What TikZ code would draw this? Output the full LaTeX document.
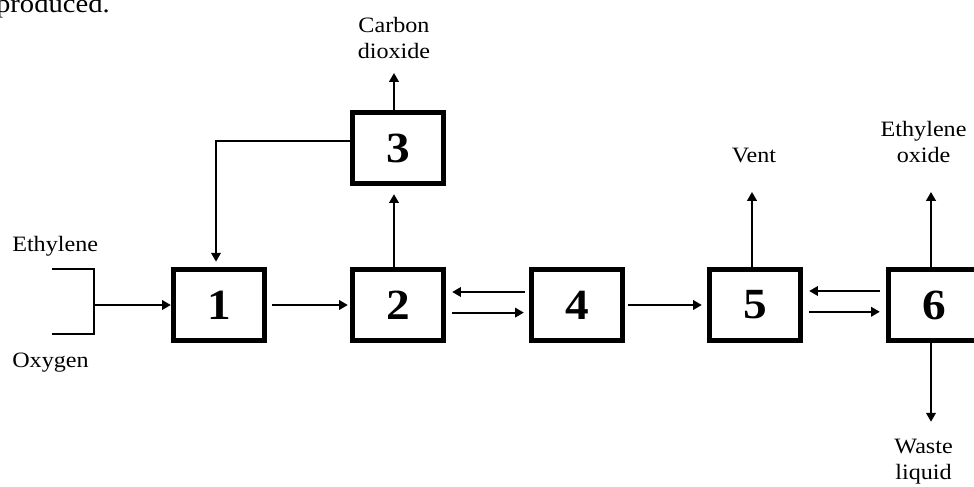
\documentclass[tikz,border=0pt]{standalone}
\usepackage{fontspec}
\setmainfont{Liberation Serif}[FakeStretch=1.1]
\usetikzlibrary{arrows.meta}

\begin{document}
\begin{tikzpicture}
\tikzset{
	unit/.style={draw,
		shape=rectangle,
		line width=3.8pt,
		minimum width=2.275cm, % box size without the border
		minimum height=1.775cm,
		inner sep=0pt,
		font=\fontsize{30.6}{34}\selectfont\bfseries
	},
	flow/.style={-{Triangle[length=0.22cm,width=0.24cm]}, line width=1.3pt},
	lbl/.style={inner sep=0pt, align=center, font=\fontsize{15.6}{18.5}\selectfont},
}
\useasboundingbox (0,0) rectangle (24.35,12.175);

% process units
\node[unit] (U1) at (5.475,4.55) {1};
\node[unit] (U2) at (9.95,4.55) {2};
\node[unit] (U3) at (9.95,8.475) {3};
\node[unit] (U4) at (14.425,4.55) {4};
\node[unit] (U5) at (18.875,4.55) {5};
\node[unit] (U6) at (23.35,4.55) {6};

% end points of the open streams
\coordinate (FEED) at (2.35,4.55);
\coordinate (CO2) at (9.85,10.35);
\coordinate (VENT) at (18.8,7.375);
\coordinate (EO) at (23.275,7.375);
\coordinate (WASTE) at (23.275,1.6325);

% labels
\node[lbl, anchor=base east, font=\fontsize{18.5}{22}\selectfont] (TXT) at (2.75,11.85) {produced.};
\node[lbl, anchor=base west] (C2H4LBL) at (0.3,5.88) {Ethylene};
\node[lbl, anchor=base west] (O2LBL) at (0.3,2.975) {Oxygen};
\node[lbl, anchor=south] (CO2LBL) at (9.85,10.7) {Carbon\\dioxide};
\node[lbl, anchor=base] (VENTLBL) at (18.85,8.1) {Vent};
\node[lbl, anchor=south] (EOLBL) at (23.09,8.1) {Ethylene\\oxide};
\node[lbl, anchor=north] (WASTELBL) at (23.09,1.21) {Waste\\liquid};

% feed mixing
\draw[line width=1.3pt] (1.3,5.45) -| (2.35,3.825) -- (1.3,3.825);
{\draw[flow] (FEED) -- (U1.west);}

% main line
{\draw[flow] ([xshift=0.125cm]U1.east) -- ([xshift=-0.05cm]U2.west);}
{\draw[flow] ([xshift=-0.1cm,yshift=0.325cm]U4.west) -- ([xshift=0.15cm,yshift=0.325cm]U2.east);}
{\draw[flow] ([xshift=0.15cm,yshift=-0.19cm]U2.east) -- ([xshift=-0.125cm,yshift=-0.19cm]U4.west);}
{\draw[flow] ([xshift=0.075cm]U4.east) -- ([xshift=-0.125cm]U5.west);}
{\draw[flow] ([xshift=-0.15cm,yshift=0.35cm]U6.west) -- ([xshift=0.15cm,yshift=0.35cm]U5.east);}
{\draw[flow] ([xshift=0.15cm,yshift=-0.17cm]U5.east) -- ([xshift=-0.15cm,yshift=-0.17cm]U6.west);}

% recycle loop over unit 3
{\draw[flow] (U2.north -| CO2) -- ([yshift=-0.2cm]U3.south -| CO2);}
{\draw[flow] (U3.north -| CO2) -- (CO2);}
{\draw[flow] ([yshift=0.175cm]U3.west) -| ([xshift=-0.075cm,yshift=0.13cm]U1.north);}

% products
{\draw[flow] (U5.north -| VENT) -- (VENT);}
{\draw[flow] (U6.north -| EO) -- (EO);}
{\draw[flow] (U6.south -| WASTE) -- (WASTE);}

\end{tikzpicture}
\end{document}
